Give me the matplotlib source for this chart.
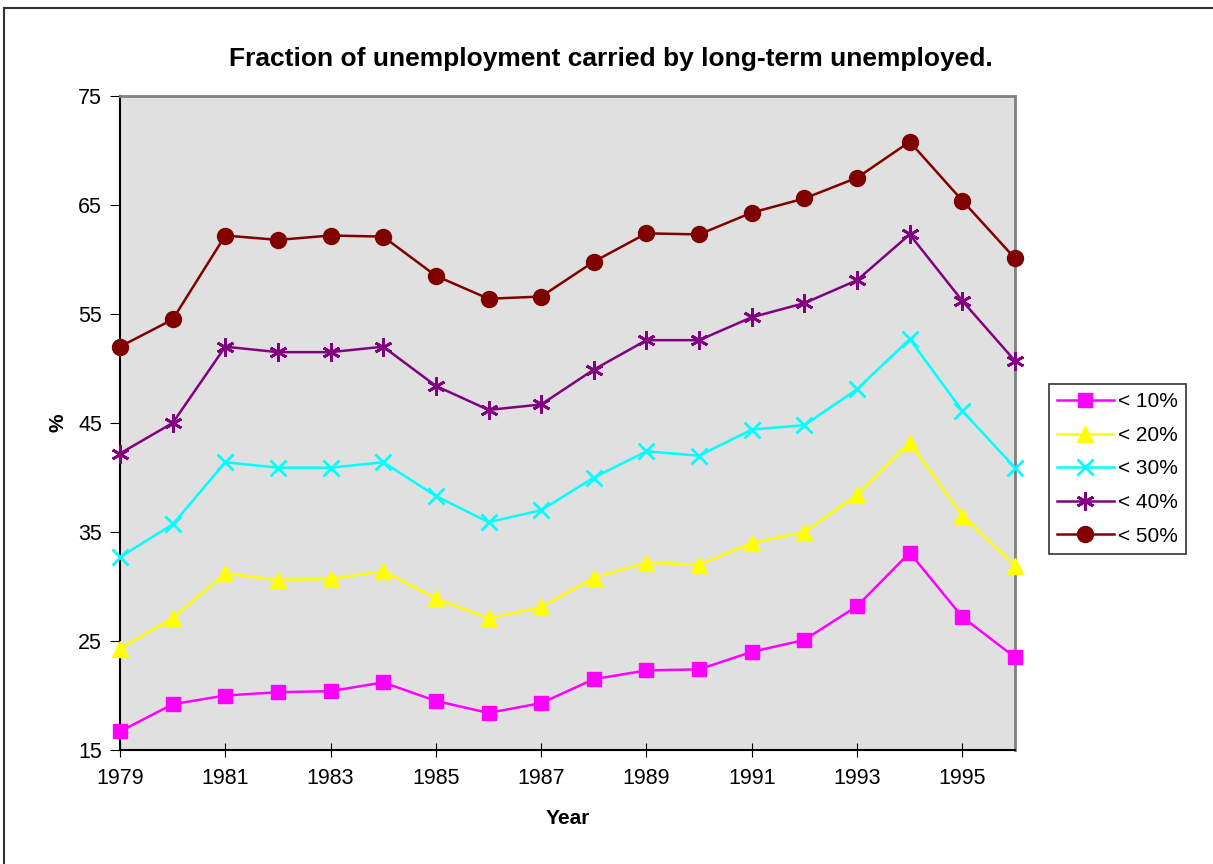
import matplotlib
matplotlib.use("Agg")
import matplotlib.pyplot as plt
from matplotlib.lines import Line2D

plt.rcParams['font.family'] = ['Liberation Sans', 'DejaVu Sans']

years = list(range(1979, 1997))
lt10 = [16.7, 19.2, 20.0, 20.3, 20.4, 21.2, 19.5, 18.4, 19.3, 21.5, 22.3, 22.4, 24.0, 25.1, 28.2, 33.1, 27.2, 23.5]
lt20 = [24.3, 27.1, 31.2, 30.6, 30.7, 31.4, 28.9, 27.1, 28.1, 30.8, 32.2, 32.0, 34.0, 35.0, 38.4, 43.2, 36.5, 31.9]
lt30 = [32.7, 35.7, 41.4, 40.9, 40.9, 41.4, 38.3, 35.9, 37.0, 40.0, 42.4, 42.0, 44.4, 44.8, 48.1, 52.7, 46.1, 40.9]
lt40 = [42.2, 45.0, 52.0, 51.5, 51.5, 52.0, 48.4, 46.2, 46.7, 49.9, 52.6, 52.6, 54.7, 56.0, 58.1, 62.3, 56.2, 50.7]
lt50 = [52.0, 54.5, 62.2, 61.8, 62.2, 62.1, 58.5, 56.4, 56.6, 59.8, 62.4, 62.3, 64.3, 65.6, 67.5, 70.8, 65.4, 60.1]
labels = ['< 10%', '< 20%', '< 30%', '< 40%', '< 50%']

W, H = 1213, 864
fig = plt.figure(figsize=(W / 100, H / 100), dpi=100)
ax = fig.add_axes([120 / W, 1 - 750 / H, (1015 - 120) / W, (750 - 96) / H])
ax.set_facecolor('#e0e0e0')

kw = dict(lw=1.8, clip_on=False, zorder=3)
ax.plot(years, lt10, color='#ff00ff', marker='s', ms=10.5, label=labels[0], **kw)
ax.plot(years, lt20, color='#ffff00', marker='^', ms=11.5, label=labels[1], **kw)
ax.plot(years, lt30, color='#00ffff', marker='x', ms=11, mew=2, label=labels[2], **kw)
ax.plot(years, lt40, color='#800080', marker=(6, 2, 0), ms=13, mew=2, label=labels[3], **kw)
ax.plot(years, lt50, color='#800000', marker='o', ms=11.5, label=labels[4], **kw)

ax.set_xlim(1979, 1996)
ax.set_ylim(15, 75)
ax.set_xticks(range(1979, 1997, 2))
ax.set_yticks(range(15, 76, 10))
ax.tick_params(axis='x', direction='inout', length=10, labelsize=15.5, pad=8)
ax.tick_params(axis='y', direction='out', length=7, labelsize=15.5, pad=6)

for s in ['top', 'right']:
    ax.spines[s].set_color('#808080')
    ax.spines[s].set_linewidth(2)
for s in ['left', 'bottom']:
    ax.spines[s].set_color('black')
    ax.spines[s].set_linewidth(1.5)

ax.set_xlabel('Year', fontsize=15, fontweight='bold')
ax.set_ylabel('%', fontsize=15, fontweight='bold')
ax.xaxis.set_label_coords(0.5, -0.09)
ax.yaxis.set_label_coords(-0.059, 0.5)

fig.text(611 / W, 1 - 59 / H, 'Fraction of unemployment carried by long-term unemployed.',
         ha='center', va='center', fontsize=19, fontweight='bold')

leg = ax.legend(loc='upper left', bbox_to_anchor=(1049 / W, 1 - 384 / H),
                bbox_transform=fig.transFigure, fontsize=15, frameon=True,
                fancybox=False, edgecolor='black', borderpad=0.4,
                handlelength=2.7, handletextpad=0.2, labelspacing=0.7,
                borderaxespad=0)
leg.get_frame().set_linewidth(1.2)

# outer chart border
fig.add_artist(Line2D([4 / W, 1.0], [1 - 8 / H, 1 - 8 / H], transform=fig.transFigure, color='#303030', lw=1.5))
fig.add_artist(Line2D([4 / W, 4 / W], [0, 1 - 8 / H], transform=fig.transFigure, color='#303030', lw=1.5))

fig.savefig('out.png', dpi=100)
